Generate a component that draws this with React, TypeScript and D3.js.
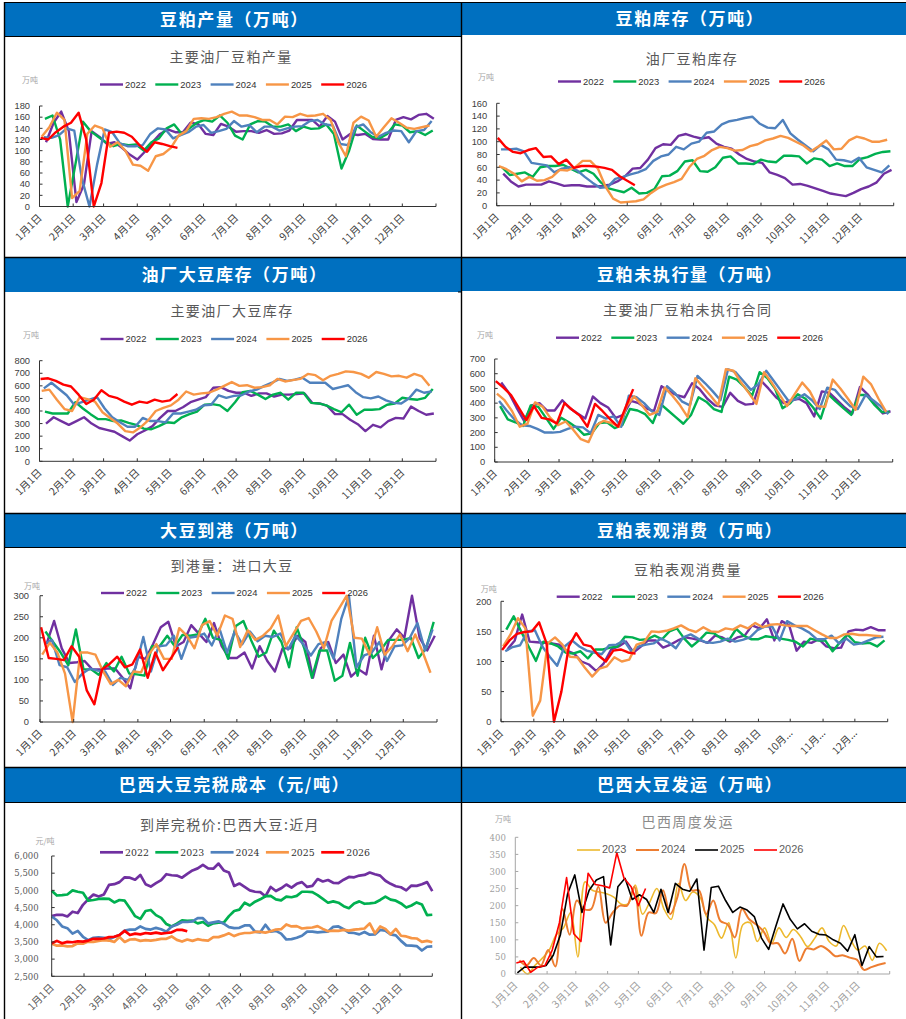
import React from "react";
import * as d3 from "d3";

// ---- shared labels
const monthLabels = ["1月1日","2月1日","3月1日","4月1日","5月1日","6月1日","7月1日","8月1日","9月1日","10月1日","11月1日","12月1日"];
const monthLabelsCut = ["1月1日","2月1日","3月1日","4月1日","5月1日","6月1日","7月1日","8月1日","9月1日","10月...","11月...","12月..."];
const monthDays = [0,31,59,90,120,151,181,212,243,273,304,334];
const fiveYears = ["2022","2023","2024","2025","2026"];
const fourYears = ["2023","2024","2025","2026"];
const firstFriday: Record<string, number> = { "2022": 6, "2023": 5, "2024": 4, "2025": 2, "2026": 1 };

// ---- 豆粕产量
const output2022 = [115,150,170,135,8,40,135,125,112,115,105,93,84,98,115,130,138,133,133,150,148,130,128,148,143,134,135,135,132,137,130,131,136,155,155,155,143,162,152,120,130,128,130,121,120,120,155,160,156,164,166,157];
const output2023 = [157,163,120,0,75,152,135,125,115,108,112,110,111,100,115,122,140,147,130,140,150,155,152,163,150,127,120,147,153,152,143,143,147,135,143,139,140,147,130,68,100,145,135,125,122,130,147,145,133,135,128,136];
const output2024 = [124,123,128,140,136,50,0,75,138,133,113,108,108,110,130,140,138,122,128,133,143,146,132,135,139,153,143,146,133,143,143,136,140,143,144,153,155,147,145,112,110,142,147,133,125,132,136,135,115,135,137,153];
const output2025 = [125,142,168,155,15,28,130,145,140,107,115,100,75,73,64,90,94,105,127,135,157,158,157,160,166,170,163,163,160,155,155,147,161,160,166,162,163,166,155,115,90,150,161,154,125,142,158,150,141,139,142,145];
const output2026 = [123,120,133,143,150,168,120,0,42,132,134,132,125,110,98,115,112,108,105];

// ---- 豆粕库存
const stock2022 = [50,38,30,33,33,33,38,35,31,32,32,30,30,31,33,38,46,58,59,72,90,96,95,109,112,108,105,107,97,92,89,80,73,69,67,52,48,43,33,34,31,27,23,19,17,15,20,26,30,36,50,56];
const stock2023 = [60,48,50,52,45,60,62,62,64,58,52,56,50,36,27,24,21,28,19,20,26,46,47,54,69,71,54,53,60,75,77,66,66,65,72,69,68,78,78,77,66,74,72,62,66,62,62,73,76,81,84,85];
const stock2024 = [88,88,89,85,67,65,63,52,58,60,55,45,36,28,29,42,45,49,52,57,70,77,80,92,88,97,100,114,116,127,132,134,137,139,128,122,121,134,113,103,94,85,95,88,72,71,68,75,60,56,52,63];
const stock2025 = [62,57,50,38,45,39,40,45,56,55,60,70,70,58,30,11,5,6,7,10,20,28,33,37,42,60,73,78,87,92,90,86,87,93,96,102,105,109,106,100,94,85,93,102,88,89,102,108,105,100,100,103];
const stock2026 = [106,92,84,82,87,90,76,77,65,72,59,62,62,61,59,56,46,39,32];

// ---- 油厂大豆库存
const bean2022 = [300,350,320,290,320,350,300,265,250,235,200,165,215,245,280,345,400,400,430,470,490,510,585,590,560,545,545,520,540,540,515,530,530,535,540,465,460,440,375,375,330,295,240,290,270,320,345,340,435,400,370,380];
const bean2023 = [395,380,380,380,470,420,375,335,335,320,325,305,290,260,255,280,310,305,350,375,395,450,455,445,400,470,550,560,530,495,530,545,490,545,545,465,460,445,415,390,450,370,410,410,415,450,460,505,495,490,505,575];
const bean2024 = [580,625,575,525,450,470,490,510,420,350,310,275,275,345,320,320,310,380,380,395,410,445,450,525,505,520,525,555,570,600,625,655,640,650,665,625,625,625,575,590,605,550,510,500,515,485,465,460,500,570,545,555];
const bean2025 = [560,570,490,415,400,510,495,475,390,345,300,240,230,270,325,400,425,445,490,555,530,540,545,570,600,630,600,605,585,590,605,655,635,645,655,695,685,645,680,695,715,710,695,665,710,695,675,680,665,695,675,600];
const bean2026 = [655,660,640,610,595,530,455,490,565,520,505,475,450,475,465,490,475,485,535];

// ---- 豆粕未执行量
const open2022 = [540,470,370,280,385,400,350,350,420,365,330,295,445,400,370,300,320,415,400,365,345,515,480,455,440,535,495,430,385,375,470,415,390,395,555,500,440,400,420,430,400,310,480,470,420,370,330,510,460,390,330,345];
const open2023 = [380,290,270,245,385,375,300,225,300,270,235,185,195,265,270,230,250,360,350,325,265,395,350,305,260,320,440,410,360,340,580,560,510,450,610,570,500,365,400,460,430,370,295,460,410,365,320,455,455,390,340,340];
const open2024 = [415,350,290,250,245,225,200,200,205,225,240,235,195,320,295,310,240,450,440,400,345,320,515,470,410,385,585,535,480,420,630,610,550,490,530,620,550,480,410,430,460,420,360,505,490,430,380,360,455,420,380,325];
const open2025 = [465,420,345,240,260,405,375,300,250,275,220,155,135,250,280,265,240,380,445,385,320,340,505,450,385,305,570,510,450,385,630,620,540,470,395,610,540,460,380,460,540,480,380,375,560,500,430,355,580,530,430,340];
const open2026 = [550,505,455,370,285,380,300,290,262,400,355,315,240,395,345,290,240,370,495];

// ---- 大豆到港
const port2022 = [185,240,175,140,142,145,125,125,127,127,105,80,155,150,185,225,238,180,190,230,210,190,235,180,152,152,165,127,180,145,120,175,175,205,190,105,175,190,140,160,108,125,113,205,125,195,220,200,300,200,170,205];
const port2023 = [215,190,165,135,220,125,125,112,140,120,155,115,113,110,180,180,205,180,207,205,208,245,200,195,150,228,240,195,155,165,217,190,130,225,175,105,170,170,98,110,188,110,200,152,170,195,195,195,200,152,175,238];
const port2024 = [185,195,135,130,95,115,127,122,120,88,105,100,130,202,120,180,182,205,150,200,203,210,182,222,165,215,185,215,192,205,202,210,172,205,185,158,185,190,150,245,300,130,158,165,190,145,180,182,200,235,170,220];
const port2025 = [160,188,165,115,0,165,165,160,120,90,100,85,120,118,160,185,150,150,223,205,175,230,240,205,253,245,178,218,195,205,222,253,180,210,240,247,215,175,240,270,300,200,198,160,225,160,180,208,168,208,165,117];
const port2026 = [225,152,150,147,180,155,75,42,125,138,155,130,137,172,105,165,123,150,178];

// ---- 豆粕表观消费
const use2022 = [120,135,178,133,132,131,130,128,118,113,100,95,84,97,120,125,133,115,125,135,135,123,128,135,140,138,135,131,143,140,133,140,143,160,155,170,135,167,160,118,133,131,137,125,122,123,150,153,152,157,152,152];
const use2023 = [153,175,150,125,101,133,130,125,115,113,117,105,120,120,123,125,141,140,136,137,143,137,150,155,138,125,135,148,147,138,135,154,143,137,137,142,140,138,136,133,125,138,135,135,117,132,145,132,130,131,125,135];
const use2024 = [117,124,127,150,152,125,108,93,125,135,125,118,115,112,127,128,135,117,125,128,130,138,132,122,140,145,138,132,131,133,138,133,136,140,152,158,158,135,167,160,155,148,137,137,143,130,138,128,130,135,140,141];
const use2025 = [125,145,172,155,10,35,130,140,128,108,107,90,75,88,92,107,100,103,128,132,150,149,151,155,160,153,149,157,150,149,155,153,160,155,164,157,161,162,160,159,159,159,152,145,139,139,145,146,144,144,143,142];
const use2026 = [119,135,146,149,150,165,130,0,50,125,147,128,125,110,100,118,120,115,113];

// ---- 巴西大豆完税成本 (sampled every five days)
const cost2022 = [4250,4290,4290,4240,4380,4340,4580,4740,4880,4820,4880,5160,5180,5240,5380,5370,5310,5450,5180,5110,5210,5300,5470,5440,5430,5370,5480,5580,5640,5740,5640,5630,5780,5580,5520,5130,5200,5100,5000,4960,4950,4830,5100,4980,5060,5170,5080,5190,5240,5100,5130,5330,5260,5300,5220,5210,5310,5390,5380,5430,5450,5520,5470,5430,5280,5190,5120,5090,5000,5140,5130,5180,5240,4980];
const cost2023 = [4990,4850,4860,4880,5000,4960,4930,4700,4720,4750,4760,4750,4650,4720,4700,4480,4250,4170,4400,4430,4280,4200,4020,3950,4030,4130,4110,4120,4040,4080,3970,4040,4060,4060,4250,4400,4440,4640,4560,4670,4740,4830,4840,4740,4710,4820,4800,4840,4960,4960,4950,4860,4750,4640,4680,4640,4540,4480,4620,4680,4610,4620,4640,4720,4820,4730,4700,4620,4500,4560,4650,4590,4280,4290];
const cost2024 = [4240,4130,3950,3900,3740,3820,3650,3550,3620,3630,3620,3580,3640,3700,3830,3860,3860,3950,3880,3860,3910,3870,3800,3950,4000,4080,4080,4100,4190,4190,4040,4070,4100,4030,3930,3900,3910,3980,3980,3800,3780,4000,3800,3820,3740,3570,3580,3620,3680,3800,3800,3780,3790,3800,3940,3950,3870,3770,3760,3720,3790,3710,3720,3850,3830,3720,3690,3530,3400,3390,3380,3250,3360,3370];
const cost2025 = [3450,3390,3400,3370,3380,3460,3450,3510,3500,3530,3550,3540,3500,3640,3500,3570,3580,3530,3550,3540,3560,3590,3590,3660,3560,3510,3570,3530,3580,3550,3540,3640,3640,3690,3750,3670,3730,3760,3760,3790,3790,3770,3810,3860,3870,4010,3950,3960,3890,3910,3920,3960,3880,3810,3830,3820,3850,3830,3860,3870,3890,4040,3750,3950,3880,3720,3880,3680,3660,3610,3600,3500,3530,3490];
const cost2026 = [3460,3530,3460,3500,3490,3520,3510,3540,3590,3590,3600,3640,3650,3700,3820,3700,3740,3720,3760,3740,3770,3740,3760,3780,3850,3850,3810];

// ---- 巴西大豆发运
const ship2023 = [20,0,25,45,70,115,135,180,50,270,245,240,235,225,205,205,260,175,210,250,190,160,265,215,240,225,165,145,105,150,47,145,150,95,135,90,135,107,130,110,80,105,135,95,82,142,100,70,82,40,90,68];
const ship2024 = [40,25,47,25,70,22,190,115,215,190,190,255,150,180,200,200,255,112,180,178,245,175,225,322,245,245,175,215,155,145,107,190,160,145,125,90,90,60,103,38,75,72,82,70,52,55,48,42,12,20,27,32];
const ship2025 = [3,20,20,20,25,55,115,235,290,180,245,275,285,85,255,280,218,232,218,180,248,180,265,248,242,278,70,253,257,215,180,196,187,168,105,72,140,205,160,132,147,125,116,114,100,90,67,115,25,80,50,51];
const ship2026 = [32,38,5,20,25,70,150,282,118,95,295,262,258,252,355,280,255,200,250];

const yearColors: Record<string, string> = { "2022": "#7030A0", "2023": "#00B050", "2024": "#4F81BD", "2025": "#F79646", "2026": "#FF0000" };
const shipColors: Record<string, string> = { "2023": "#EDB92E", "2024": "#ED7D31", "2025": "#000000", "2026": "#FF0000" };

const tickSteps = (a: number, b: number, s: number) => d3.range(a, b + s / 2, s);

const SANS = "'Liberation Sans', Arial, sans-serif";
const CJK = "'Noto Sans CJK SC', 'Noto Sans', sans-serif";

type Panel = {
  head: string; hx: [number, number]; hy: [number, number]; headRule: boolean; headShift: number;
  sub: string; subX: number; subY: number; subColor?: string;
  unit: string; unitX: number; unitY: number;
  legX: number; legY: number;
  L: number; R: number; T: number; B: number;
  yMin: number; yMax: number; yStep: number; thousands?: boolean;
  years: string[]; series: number[][]; colors: Record<string, string>;
  labels?: string[]; serif?: boolean; axisColor?: string; textColor?: string;
  sampleEvery?: number; widths?: number[]; smooth?: string[]; legStep?: number; legFont?: number; labelGap?: number;
};

const panels: Panel[] = [
  { head: "豆粕产量（万吨）", hx: [5, 461], hy: [3, 36], headRule: true, headShift: 1.5, sub: "主要油厂豆粕产量", subX: 231, subY: 57, unit: "万吨", unitX: 30, unitY: 80, legX: 100, legY: 84.5, L: 39.5, R: 436, T: 106, B: 206.5, yMin: 0, yMax: 180, yStep: 20, years: fiveYears, series: [output2022, output2023, output2024, output2025, output2026], colors: yearColors },
  { head: "豆粕库存（万吨）", hx: [462, 906], hy: [3, 35], headRule: false, headShift: 6, sub: "油厂豆粕库存", subX: 692, subY: 59, unit: "万吨", unitX: 486, unitY: 77, legX: 558, legY: 81.5, L: 496.7, R: 893.7, T: 103.3, B: 205.7, yMin: 0, yMax: 160, yStep: 20, years: fiveYears, series: [stock2022, stock2023, stock2024, stock2025, stock2026], colors: yearColors },
  { head: "油厂大豆库存（万吨）", hx: [5, 461], hy: [258, 292], headRule: false, headShift: 1.5, sub: "主要油厂大豆库存", subX: 232, subY: 311, unit: "万吨", unitX: 31, unitY: 335, legX: 100.5, legY: 339, L: 39.5, R: 436, T: 360.7, B: 461.3, yMin: 0, yMax: 800, yStep: 100, years: fiveYears, series: [bean2022, bean2023, bean2024, bean2025, bean2026], colors: yearColors },
  { head: "豆粕未执行量（万吨）", hx: [462, 906], hy: [258, 291], headRule: false, headShift: 6, sub: "主要油厂豆粕未执行合同", subX: 687.7, subY: 310, unit: "万吨", unitX: 485, unitY: 335, legX: 556, legY: 337.7, L: 494.7, R: 892.7, T: 359, B: 462, yMin: 0, yMax: 700, yStep: 100, years: fiveYears, series: [open2022, open2023, open2024, open2025, open2026], colors: yearColors },
  { head: "大豆到港（万吨）", hx: [5, 461], hy: [514, 547], headRule: true, headShift: 1.5, sub: "到港量：进口大豆", subX: 232, subY: 565.7, unit: "万吨", unitX: 32, unitY: 585.7, legX: 101, legY: 593, L: 40, R: 437, T: 595.7, B: 722, yMin: 0, yMax: 300, yStep: 50, labelGap: 11, years: fiveYears, series: [port2022, port2023, port2024, port2025, port2026], colors: yearColors },
  { head: "豆粕表观消费（万吨）", hx: [462, 906], hy: [514, 547], headRule: true, headShift: 6, sub: "豆粕表观消费量", subX: 688, subY: 569.7, unit: "万吨", unitX: 488.7, unitY: 588.7, legX: 556.7, legY: 596.7, L: 501, R: 887.7, T: 601.3, B: 721.7, yMin: 0, yMax: 200, yStep: 50, years: fiveYears, series: [use2022, use2023, use2024, use2025, use2026], colors: yearColors, labels: monthLabelsCut },
  { head: "巴西大豆完税成本（元/吨）", hx: [5, 461], hy: [768, 802], headRule: true, headShift: 1.5, sub: "到岸完税价:巴西大豆:近月", subX: 230, subY: 825.3, unit: "元/吨", unitX: 45, unitY: 840.7, legX: 100, legY: 852.3, L: 51.7, R: 432.3, T: 856, B: 976.3, yMin: 2500, yMax: 6000, yStep: 500, thousands: true, labelGap: 13, years: fiveYears, series: [cost2022, cost2023, cost2024, cost2025, cost2026], colors: yearColors, serif: true, textColor: "#595959", sampleEvery: 5, widths: [2.7, 2.7, 2.7, 2.7, 2.7] },
  { head: "巴西大豆发运（万吨）", hx: [462, 906], hy: [768, 802], headRule: true, headShift: 6, sub: "巴西周度发运", subX: 687.7, subY: 822.3, subColor: "#8C8C8C", unit: "万吨", unitX: 503, unitY: 818.7, legX: 577, legY: 850, L: 515.3, R: 889.7, T: 837.3, B: 974, yMin: 0, yMax: 400, yStep: 50, years: fourYears, series: [ship2023, ship2024, ship2025, ship2026], colors: shipColors, serif: true, axisColor: "#A6A6A6", textColor: "#A0A0A0", widths: [1.6, 2, 1.6, 1.6], smooth: ["2023", "2024"], legStep: 59, legFont: 11 },
];

function Chart({ p }: { p: Panel }) {
  const x = d3.scaleLinear().domain([0, 365]).range([p.L, p.R]);
  const y = d3.scaleLinear().domain([p.yMin, p.yMax]).range([p.B, p.T]);
  const axisColor = p.axisColor ?? "#333333";
  const textColor = p.textColor ?? "#404040";
  const tickFont = p.serif ? "'DejaVu Serif', 'Liberation Serif', serif" : SANS;
  const fmt = p.thousands ? d3.format(",") : d3.format("d");
  const labels = p.labels ?? monthLabels;
  const gap = p.labelGap ?? 9.5;
  return (
    <g>
      <rect x={p.hx[0]} y={p.hy[0]} width={p.hx[1] - p.hx[0]} height={p.hy[1] - p.hy[0]} fill="#0070C0" />
      {p.headRule && <line x1={p.hx[0]} x2={p.hx[1]} y1={p.hy[1] + 0.5} y2={p.hy[1] + 0.5} stroke="#000" />}
      <text x={(p.hx[0] + p.hx[1]) / 2 + p.headShift} y={(p.hy[0] + p.hy[1]) / 2 + 6} textAnchor="middle" fill="#fff" fontFamily={CJK} fontWeight={700} fontSize={17} letterSpacing={1.6}>{p.head}</text>
      <text x={p.subX} y={p.subY + 5} textAnchor="middle" fill={p.subColor ?? "#595959"} fontFamily={CJK} fontSize={14} letterSpacing={1.4}>{p.sub}</text>
      <text x={p.unitX} y={p.unitY + 3} textAnchor="middle" fill="#A6A6A6" fontFamily={CJK} fontSize={8}>{p.unit}</text>

      {p.years.map((yr, i) => {
        const s = p.series[i];
        const sw = p.widths ? p.widths[i] : 2.4;
        const line = d3.line<number>()
          .x((_, k) => x(p.sampleEvery ? k * p.sampleEvery : firstFriday[yr] + k * 7))
          .y((v) => y(v))
          .curve(p.smooth && p.smooth.includes(yr) ? d3.curveCatmullRom.alpha(0.5) : d3.curveLinear);
        return <path key={yr} d={line(s) ?? ""} fill="none" stroke={p.colors[yr]} strokeWidth={sw} strokeLinejoin="round" />;
      })}

      <line x1={p.L} x2={p.L} y1={p.T} y2={p.B} stroke={axisColor} />
      <line x1={p.L} x2={p.R} y1={p.B} y2={p.B} stroke={axisColor} />
      {tickSteps(p.yMin, p.yMax, p.yStep).map((v) => (
        <g key={v}>
          <line x1={p.L} x2={p.L + 3} y1={y(v)} y2={y(v)} stroke={axisColor} />
          <text x={p.L - gap} y={y(v) + 3.2} textAnchor="end" fontFamily={tickFont} fontSize={p.serif ? 8.5 : 9.3} fill={textColor}>{fmt(v)}</text>
        </g>
      ))}
      {[...monthDays, 365].map((d) => (
        <line key={d} x1={x(d)} x2={x(d)} y1={p.B} y2={p.B - 3} stroke={axisColor} />
      ))}
      {monthDays.map((d, i) => (
        <text key={d} transform={`translate(${x(d) + 3},${p.B + 12}) rotate(-45)`} textAnchor="end" fontFamily={CJK} fontSize={10.3} fill={textColor}>{labels[i]}</text>
      ))}

      {p.years.map((yr, i) => {
        const step = p.legStep ?? 55.3;
        const lx = p.legX + i * step;
        return (
          <g key={yr}>
            <line x1={lx} x2={lx + 23} y1={p.legY} y2={p.legY} stroke={p.colors[yr]} strokeWidth={p.widths ? p.widths[i] : 2.4} />
            <text x={lx + 25} y={p.legY + 3.3} fontFamily={p.serif && !p.legStep ? tickFont : SANS} fontSize={p.legFont ?? 9.4} fill={p.legFont ? "#606060" : "#333333"}>{yr}</text>
          </g>
        );
      })}
    </g>
  );
}

const frameRows = [257.5, 513.5, 767.5];

export default function App() {
  return (
    <svg width={906} height={1019} viewBox="0 0 906 1019" style={{ position: "absolute", left: 0, top: 0, background: "#fff" }}>
      {panels.map((p) => <Chart key={p.head} p={p} />)}
      <line x1={4.5} x2={4.5} y1={2} y2={1019} stroke="#000" strokeWidth={1.4} />
      <line x1={461.5} x2={461.5} y1={2} y2={1019} stroke="#000" strokeWidth={1.4} />
      <line x1={4} x2={906} y1={2.5} y2={2.5} stroke="#000" />
      {frameRows.map((r) => <line key={r} x1={4} x2={906} y1={r} y2={r} stroke="#000" strokeWidth={1.4} />)}
      <line x1={458} x2={461} y1={292} y2={292} stroke="#000" />
    </svg>
  );
}
